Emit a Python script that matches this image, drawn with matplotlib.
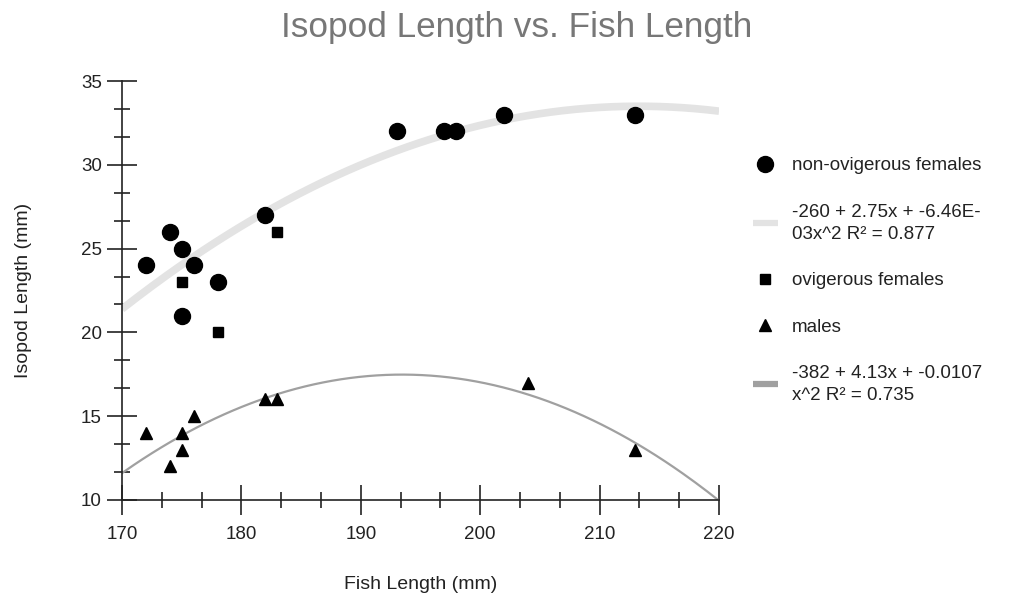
import matplotlib
matplotlib.use("Agg")
import matplotlib.pyplot as plt
from matplotlib.lines import Line2D
from matplotlib.ticker import MultipleLocator
import numpy as np

plt.rcParams["font.family"] = ["Liberation Sans", "DejaVu Sans"]

# non-ovigerous females
nof_x = [172, 174, 175, 175, 176, 178, 182, 193, 197, 198, 202, 213]
nof_y = [24, 26, 25, 21, 24, 23, 27, 32, 32, 32, 33, 33]
# ovigerous females
of_x = [175, 178, 183]
of_y = [23, 20, 26]
# males
m_x = [172, 174, 175, 175, 176, 182, 183, 204, 213]
m_y = [14, 12, 14, 13, 15, 16, 16, 17, 13]

fem_label = "-260 + 2.75x + -6.46E-\n03x^2 R\u00b2 = 0.877"
male_label = "-382 + 4.13x + -0.0107\nx^2 R\u00b2 = 0.735"

FEM_TREND = "#e3e3e3"
MALE_TREND = "#a0a0a0"

fig = plt.figure(figsize=(10.10, 6.05), dpi=100)
ax = fig.add_axes([0.1208, 0.1736, 0.5911, 0.6925])

xs = np.linspace(170, 220, 200)
fem_fit = np.polyfit(nof_x, nof_y, 2)
male_fit = np.polyfit(m_x, m_y, 2)

h_nof, = ax.plot(nof_x, nof_y, "o", color="black", markersize=11.5, linestyle="none", zorder=4)
ax.plot(xs, np.polyval(fem_fit, xs), color=FEM_TREND, linewidth=5.5, zorder=2,
        solid_capstyle="butt")
h_of, = ax.plot(of_x, of_y, "s", color="black", markersize=7.5, linestyle="none", zorder=4)
h_m, = ax.plot(m_x, m_y, "^", color="black", markersize=9, linestyle="none", zorder=4)
ax.plot(xs, np.polyval(male_fit, xs), color=MALE_TREND, linewidth=1.6, zorder=2)

# legend proxies: both trend lines show as short thick strips
h_ft = Line2D([], [], color=FEM_TREND, linewidth=4.5, solid_capstyle="butt")
h_mt = Line2D([], [], color=MALE_TREND, linewidth=4.5, solid_capstyle="butt")

ax.set_xlim(170, 220)
ax.set_ylim(10, 35)
ax.xaxis.set_major_locator(MultipleLocator(10))
ax.xaxis.set_minor_locator(MultipleLocator(10 / 3))
ax.yaxis.set_major_locator(MultipleLocator(5))
ax.yaxis.set_minor_locator(MultipleLocator(5 / 3))
for s in ["top", "right"]:
    ax.spines[s].set_visible(False)
for s in ["left", "bottom"]:
    ax.spines[s].set_color("#222222")
    ax.spines[s].set_linewidth(1.2)
ax.tick_params(which="major", direction="inout", length=21, width=1.2, color="#222222",
               labelsize=13.5, labelcolor="#222222")
ax.tick_params(which="minor", direction="inout", length=12, width=1.2, color="#222222")
ax.tick_params(axis="x", which="major", pad=8)
ax.tick_params(axis="y", which="major", pad=4)

ax.set_xlabel("Fish Length (mm)", fontsize=14, color="#222222", labelpad=24)
ax.set_ylabel("Isopod Length (mm)", fontsize=14, color="#222222", labelpad=35)
fig.text(0.5118, 0.955, "Isopod Length vs. Fish Length", ha="center", va="center",
         fontsize=25.3, color="#777777")

leg = fig.legend([h_nof, h_ft, h_of, h_m, h_mt],
                 ["non-ovigerous females", fem_label, "ovigerous females", "males", male_label],
                 loc="upper left", bbox_to_anchor=(0.729, 0.768), frameon=False,
                 fontsize=13.5, handlelength=1.3, handletextpad=0.75, labelspacing=1.56,
                 labelcolor="#222222")
for t in leg.get_texts():
    t.set_linespacing(1.4)

fig.savefig("out.png", dpi=100)
